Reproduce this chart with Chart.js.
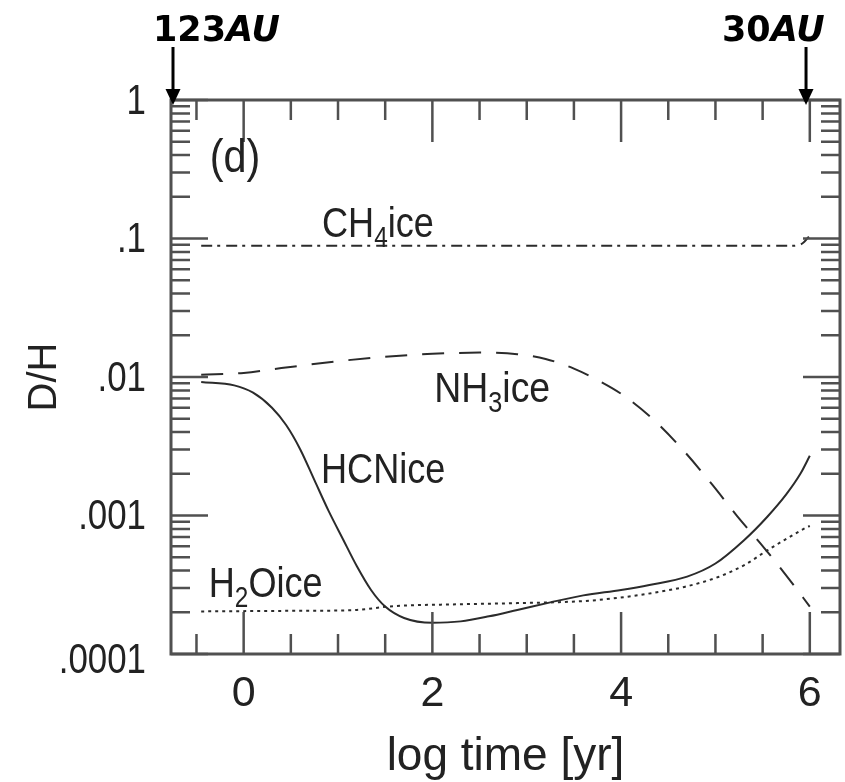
<!DOCTYPE html>
<html>
<head>
<meta charset="utf-8">
<script src="https://cdn.jsdelivr.net/npm/chart.js@4.4.1/dist/chart.umd.min.js"></script>
<style>
  html, body { margin: 0; padding: 0; background: #ffffff; }
  canvas { display: block; }
</style>
</head>
<body>
<canvas id="c" width="845" height="782"></canvas>
<script>
// ---- Data: log10 time [yr] and D/H of each ice species ----
const hcnTime = [-0.45, -0.1, 0.1, 0.3, 0.45, 0.6, 0.75, 0.9, 1.05, 1.2, 1.35, 1.5, 1.7, 2.0, 2.3, 2.6, 2.9, 3.25, 3.6, 4.0, 4.3, 4.7, 5.0, 5.3, 5.55, 5.75, 5.9, 6.0];
const hcnDH   = [0.0092, 0.0087, 0.0077, 0.0060, 0.0045, 0.0030, 0.0018, 0.00108, 0.00068, 0.00043, 0.00029, 0.00022, 0.000182, 0.000168, 0.000172, 0.000187, 0.000208, 0.000236, 0.000265, 0.00029, 0.000315, 0.000362, 0.00045, 0.00066, 0.00098, 0.00142, 0.0020, 0.0027];

const nh3Time = [-0.45, 0.0, 0.4, 1.0, 1.5, 2.0, 2.5, 2.9, 3.2, 3.5, 3.75, 4.02, 4.36, 4.67, 4.96, 5.23, 5.52, 5.79, 6.0];
const nh3DH   = [0.0104, 0.0107, 0.0116, 0.0130, 0.0140, 0.0147, 0.0150, 0.0146, 0.0135, 0.0115, 0.0095, 0.0074, 0.0048, 0.0029, 0.00169, 0.00099, 0.00058, 0.00034, 0.00022];

const h2oTime = [-0.45, 0.5, 1.0, 1.2, 1.6, 2.2, 2.9, 3.6, 3.96, 4.32, 4.67, 5.03, 5.31, 5.55, 5.73, 5.95, 6.0];
const h2oDH   = [0.000203, 0.000205, 0.000206, 0.000208, 0.000222, 0.000228, 0.000233, 0.000241, 0.000254, 0.000275, 0.000305, 0.00036, 0.00044, 0.00056, 0.000665, 0.00081, 0.00084];

const ch4Time = [-0.45, 1.0, 2.0, 3.0, 4.0, 5.0, 5.8, 5.92, 6.0];
const ch4DH   = [0.0885, 0.0885, 0.0885, 0.0885, 0.0885, 0.0885, 0.0885, 0.092, 0.105];

// ---- Axis ticks ----
const xTickValues = [0, 2, 4, 6];
const yTickValues = [0.0001, 0.001, 0.01, 0.1, 1];
const yTickLabels = ['.0001', '.001', '.01', '.1', '1'];

// ---- Styling ----
const SANS = '"Liberation Sans", Arial, sans-serif';
const LINE = '#2b2b2b';
const FRAME = '#505050';
const TEXT = '#222222';

const toPoints = (xs, ys) => xs.map((x, i) => ({ x: x, y: ys[i] }));

function series(label, xs, ys, dash) {
  return {
    label: label,
    data: toPoints(xs, ys),
    borderColor: LINE,
    borderWidth: 2,
    borderDash: dash,
    pointRadius: 0,
    fill: false,
    cubicInterpolationMode: 'monotone'
  };
}

// Curve annotations, anchored in data coordinates (left edge, baseline)
const curveLabels = [
  { parts: [['(d)', false]], x: -0.36, y: 0.30, size: 46, squeeze: 0.9 },
  { parts: [['CH', false], ['4', true], ['ice', false]], x: 0.83, y: 0.1026, size: 43, squeeze: 0.84 },
  { parts: [['NH', false], ['3', true], ['ice', false]], x: 2.02, y: 0.0066, size: 43, squeeze: 0.87 },
  { parts: [['HCNice', false]], x: 0.82, y: 0.00172, size: 43, squeeze: 0.84 },
  { parts: [['H', false], ['2', true], ['Oice', false]], x: -0.37, y: 0.000258, size: 43, squeeze: 0.84 }
];

// Draws text squeezed horizontally (condensed look)
function squeezedText(ctx, str, x, y, squeeze) {
  ctx.save();
  ctx.translate(x, y);
  ctx.scale(squeeze, 1);
  ctx.fillText(str, 0, 0);
  ctx.restore();
  return ctx.measureText(str).width * squeeze;
}

const framePlugin = {
  id: 'frame',
  afterDatasetsDraw(chart) {
    const { ctx, chartArea: a } = chart;
    const xs = chart.scales.x, ys = chart.scales.y;
    ctx.save();
    ctx.strokeStyle = FRAME;
    ctx.lineWidth = 2.5;
    ctx.beginPath();
    // vertical axis: decades long, 2..9 short, pointing inward on both sides
    for (let e = -4; e <= 0; e++) {
      const d = Math.pow(10, e);
      const py = ys.getPixelForValue(d);
      ctx.moveTo(a.left, py); ctx.lineTo(a.left + 37, py);
      ctx.moveTo(a.right, py); ctx.lineTo(a.right - 37, py);
      if (e < 0) {
        for (let k = 2; k <= 9; k++) {
          const pm = ys.getPixelForValue(k * d);
          ctx.moveTo(a.left, pm); ctx.lineTo(a.left + 19, pm);
          ctx.moveTo(a.right, pm); ctx.lineTo(a.right - 19, pm);
        }
      }
    }
    // horizontal axis: every 0.5, long at even integers
    for (let t = -0.5; t <= 6.0001; t += 0.5) {
      const px = xs.getPixelForValue(t);
      const len = (Math.abs(t % 2) < 1e-6) ? 42 : 20;
      ctx.moveTo(px, a.top); ctx.lineTo(px, a.top + len);
      ctx.moveTo(px, a.bottom); ctx.lineTo(px, a.bottom - len);
    }
    ctx.stroke();
    ctx.lineWidth = 3;
    ctx.strokeRect(a.left, a.top, a.right - a.left, a.bottom - a.top);
    ctx.restore();
  },
  afterDraw(chart) {
    const { ctx, chartArea: a } = chart;
    const xs = chart.scales.x, ys = chart.scales.y;
    ctx.save();
    ctx.fillStyle = TEXT;

    // y tick labels, right-aligned, condensed
    ctx.font = '42px ' + SANS;
    ctx.textBaseline = 'middle';
    ctx.textAlign = 'left';
    yTickValues.forEach((v, i) => {
      const lab = yTickLabels[i];
      const w = ctx.measureText(lab).width * 0.83;
      const py = ys.getPixelForValue(v) + (i === 0 ? 7 : 2);
      squeezedText(ctx, lab, a.left - 25 - w, py, 0.83);
    });

    // curve names
    ctx.textBaseline = 'alphabetic';
    for (const lab of curveLabels) {
      let cx = xs.getPixelForValue(lab.x);
      const by = ys.getPixelForValue(lab.y);
      for (const [txt, sub] of lab.parts) {
        ctx.font = (sub ? 29 : lab.size) + 'px ' + SANS;
        cx += squeezedText(ctx, txt, cx, sub ? by + 10 : by, lab.squeeze);
      }
    }

    // distance markers with arrows
    const markers = [
      { num: '123', unit: 'AU', textX: 153, arrowX: a.left + 2 },
      { num: '30', unit: 'AU', textX: 722, arrowX: xs.getPixelForValue(5.96) }
    ];
    ctx.fillStyle = '#000';
    ctx.strokeStyle = '#000';
    for (const m of markers) {
      ctx.font = 'bold 35px "DejaVu Sans", sans-serif';
      ctx.fillText(m.num, m.textX, 41);
      const w = ctx.measureText(m.num).width;
      ctx.font = 'italic bold 35px "DejaVu Sans", sans-serif';
      ctx.fillText(m.unit, m.textX + w, 41);
      ctx.lineWidth = 3;
      ctx.beginPath();
      ctx.moveTo(m.arrowX, 47);
      ctx.lineTo(m.arrowX, 92);
      ctx.stroke();
      ctx.beginPath();
      ctx.moveTo(m.arrowX - 7.5, 89);
      ctx.lineTo(m.arrowX + 7.5, 89);
      ctx.lineTo(m.arrowX, 105);
      ctx.closePath();
      ctx.fill();
    }
    ctx.restore();
  }
};

new Chart(document.getElementById('c'), {
  type: 'line',
  data: {
    datasets: [
      series('HCN ice', hcnTime, hcnDH, []),
      series('NH3 ice', nh3Time, nh3DH, [22, 15]),
      series('H2O ice', h2oTime, h2oDH, [3, 4]),
      series('CH4 ice', ch4Time, ch4DH, [11, 5, 3, 6])
    ]
  },
  options: {
    responsive: false,
    animation: false,
    layout: { padding: { top: 100, right: 5, left: 0, bottom: 0 } },
    plugins: { legend: { display: false }, tooltip: { enabled: false } },
    scales: {
      x: {
        type: 'linear',
        min: -0.77,
        max: 6.32,
        grid: { display: false, drawTicks: false },
        border: { display: false },
        afterBuildTicks: (s) => { s.ticks = xTickValues.map(v => ({ value: v })); },
        afterFit: (s) => { s.height = 128; },
        ticks: {
          padding: 14,
          color: TEXT,
          font: { family: SANS, size: 43 },
          callback: (v) => String(v)
        },
        title: {
          display: true,
          text: 'log time [yr]',
          color: TEXT,
          font: { family: SANS, size: 46, lineHeight: 1.0 },
          padding: { top: 0, bottom: 2 }
        }
      },
      y: {
        type: 'logarithmic',
        min: 0.0001,
        max: 1,
        grid: { display: false, drawTicks: false },
        border: { display: false },
        afterBuildTicks: (s) => { s.ticks = yTickValues.map(v => ({ value: v })); },
        afterFit: (s) => { s.width = 171; },
        ticks: { display: false },
        title: {
          display: true,
          text: 'D/H',
          color: TEXT,
          font: { family: SANS, size: 40, lineHeight: 1.0 },
          padding: { top: 25, bottom: 0 }
        }
      }
    }
  },
  plugins: [framePlugin]
});
</script>
</body>
</html>
